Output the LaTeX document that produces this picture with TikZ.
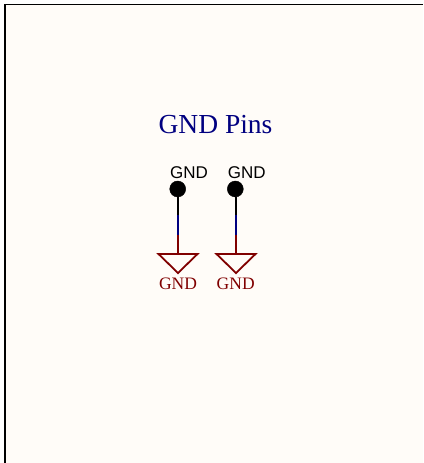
\documentclass[tikz,border=0pt]{standalone}
\usepackage{fontspec}
\setmainfont{Liberation Serif}
\newfontfamily\pinfont{Liberation Sans}
\definecolor{sheetbg}{HTML}{FFFCF8}
\definecolor{titleblue}{HTML}{000080}
\definecolor{gndred}{HTML}{800000}
\tikzset{
  pindot/.style={draw=black, fill=black, circle, inner sep=0pt, minimum size=16pt},
  pinlabel/.style={inner sep=0pt, font=\pinfont\fontsize{17}{17}\selectfont},
  gndlabel/.style={inner sep=0pt, text=gndred, font=\fontsize{17.5}{17.5}\selectfont},
  gndsymbol/.style={draw=gndred, line width=1.8pt, line join=miter},
  wirepart/.style={line width=2pt}
}
\begin{document}
\begin{tikzpicture}[x=1pt, y=-1pt]
  \useasboundingbox (0,0) rectangle (423,463);
  \fill[white] (0,0) rectangle (423,463);
  \fill[sheetbg] (5,4) rectangle (423,463);
  \coordinate (topleft) at (5,463);
  \coordinate (corner) at (5,4);
  \coordinate (topright) at (423,4);
  \draw[line width=2pt] (topleft) -- (corner);
  \draw[line width=1pt] (corner) -- (topright);
  \node[inner sep=0pt, text=titleblue, font=\fontsize{27.5}{27.5}\selectfont] (title) at (215.5,124.6) {GND Pins};
  % left pin
  \node[pindot] (a) at (177.7,189) {};
  \node[pinlabel] (alabel) at (189,172.5) {GND};
  \coordinate (ab) at (178,215);
  \coordinate (ar) at (178,235);
  \coordinate (at) at (178,254);
  \coordinate (al) at (158.5,254);
  \coordinate (ac) at (178,273);
  \coordinate (ae) at (197.5,254);
  \draw[wirepart, black] (a.south -| ab) -- (ab);
  \draw[wirepart, titleblue] (ab) -- (ar);
  \draw[wirepart, gndred] (ar) -- (at);
  \draw[gndsymbol] (al) -- (ae) -- (ac) -- cycle;
  \node[gndlabel] (agnd) at (178,283.4) {GND};
  % right pin
  \node[pindot] (b) at (235.3,189) {};
  \node[pinlabel] (blabel) at (246.7,172.5) {GND};
  \coordinate (bb) at (236,215);
  \coordinate (br) at (236,235);
  \coordinate (bt) at (236,254);
  \coordinate (bl) at (216.5,254);
  \coordinate (bc) at (236,273);
  \coordinate (be) at (255.5,254);
  \draw[wirepart, black] (b.south -| bb) -- (bb);
  \draw[wirepart, titleblue] (bb) -- (br);
  \draw[wirepart, gndred] (br) -- (bt);
  \draw[gndsymbol] (bl) -- (be) -- (bc) -- cycle;
  \node[gndlabel] (bgnd) at (235.7,283.4) {GND};
\end{tikzpicture}
\end{document}
